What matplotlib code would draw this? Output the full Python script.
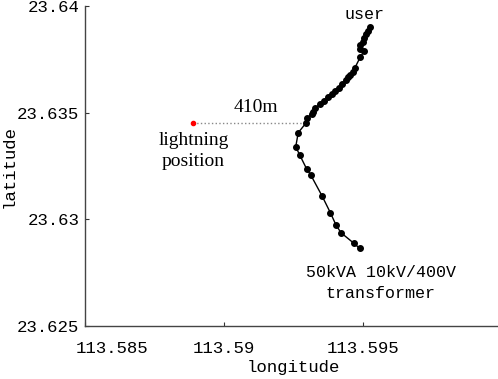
import matplotlib
matplotlib.use("Agg")
import matplotlib.pyplot as plt
import matplotlib.transforms as mtransforms

# line route (longitude, latitude), from user end down to the transformer
lon = [113.59524, 113.59517, 113.59511, 113.59505, 113.59500, 113.59490, 113.59488,
       113.59504, 113.59490, 113.59470, 113.59463, 113.59454, 113.59447, 113.59439,
       113.59426, 113.59414, 113.59401, 113.59388, 113.59375, 113.59360, 113.59347,
       113.59329, 113.59321, 113.59315, 113.59300, 113.59294, 113.59267, 113.59258,
       113.59273, 113.59297, 113.59312, 113.59353, 113.59383, 113.59403, 113.59421,
       113.59466, 113.59488]
lat = [23.63903, 23.63884, 23.63867, 23.63851, 23.63833, 23.63817, 23.63798,
       23.63789, 23.63760, 23.63708, 23.63692, 23.63677, 23.63666, 23.63653,
       23.63634, 23.63617, 23.63602, 23.63586, 23.63572, 23.63556, 23.63541,
       23.63523, 23.63503, 23.63494, 23.63474, 23.63450, 23.63406, 23.63340,
       23.63300, 23.63237, 23.63208, 23.63109, 23.63030, 23.62973, 23.62937,
       23.62889, 23.62864]

strike_lon = 113.58890
strike_lat = 23.63450
nearest_lon = 113.59294

xticks = [113.585, 113.59, 113.595]
yticks = [23.625, 23.63, 23.635, 23.64]
ytick_labels = ["23.625", "23.63", "23.635", "23.64"]

mono = "Liberation Mono"
times = "Liberation Serif"

fig = plt.figure(figsize=(4.98, 3.79), dpi=100)
ax = fig.add_axes([85 / 498, 53 / 379, 417 / 498, 320 / 379])

ax.plot(lon, lat, "-", color="black", lw=1.0, marker="o", ms=4, zorder=3)
ax.plot([strike_lon, nearest_lon], [strike_lat, strike_lat], ":", color="#888888", lw=1.0)
ax.plot(strike_lon, strike_lat, "o", color="red", ms=3, zorder=4)

ax.text(113.59505, 23.63958, "user", ha="center", va="center", fontsize=12, family=mono)
ax.text(113.59116, 23.63522, "410m", ha="center", va="center", fontsize=14, family=times)
ax.text(113.58890, 23.63320, "lightning\nposition", ha="center", va="center",
        fontsize=14, family=times, linespacing=1.3)
ax.text(113.59563, 23.62701, "50kVA 10kV/400V\ntransformer", ha="center", va="center",
        fontsize=12, family=mono, linespacing=1.5)

ax.set_xlim(113.585, 113.6)
ax.set_ylim(23.625, 23.64)
ax.set_xticks(xticks)
xlabels = ax.set_xticklabels([str(t) for t in xticks], family=mono, fontsize=12.5)
ax.set_yticks(yticks)
ax.set_yticklabels(ytick_labels, family=mono, fontsize=12.5)
ax.tick_params(direction="in", length=3, width=0.8, colors="#333333", labelcolor="black")
ax.tick_params(axis="x", pad=11)
ax.tick_params(axis="y", pad=4)
# first longitude label sits to the right of the corner in the original
xlabels[0].set_transform(xlabels[0].get_transform()
                         + mtransforms.ScaledTranslation(0.27, 0, fig.dpi_scale_trans))
ax.spines["top"].set_visible(False)
ax.spines["right"].set_visible(False)
for s in ("left", "bottom"):
    ax.spines[s].set_color("#444444")
    ax.spines[s].set_linewidth(1.0)

ax.set_xlabel("longitude", family=mono, fontsize=12.5, labelpad=3)
ax.set_ylabel("latitude", family=mono, fontsize=12.5)
ax.yaxis.set_label_coords(-0.163, 0.5)

fig.savefig("out.png", dpi=100)
